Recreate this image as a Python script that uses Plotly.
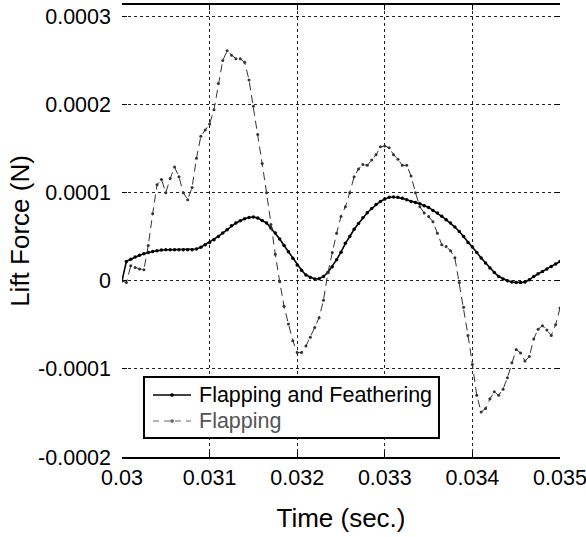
import plotly.graph_objects as go

# time (s)
time_s = [0.03, 0.03005, 0.0301, 0.03015, 0.0302, 0.03025, 0.0303, 0.03035, 0.0304, 0.03045,
          0.0305, 0.03055, 0.0306, 0.03065, 0.0307, 0.03075, 0.0308, 0.03085, 0.0309, 0.03095,
          0.031, 0.03105, 0.0311, 0.03115, 0.0312, 0.03125, 0.0313, 0.03135, 0.0314, 0.03145,
          0.0315, 0.03155, 0.0316, 0.03165, 0.0317, 0.03175, 0.0318, 0.03185, 0.0319, 0.03195,
          0.032, 0.03205, 0.0321, 0.03215, 0.0322, 0.03225, 0.0323, 0.03235, 0.0324, 0.03245,
          0.0325, 0.03255, 0.0326, 0.03265, 0.0327, 0.03275, 0.0328, 0.03285, 0.0329, 0.03295,
          0.033, 0.03305, 0.0331, 0.03315, 0.0332, 0.03325, 0.0333, 0.03335, 0.0334, 0.03345,
          0.0335, 0.03355, 0.0336, 0.03365, 0.0337, 0.03375, 0.0338, 0.03385, 0.0339, 0.03395,
          0.034, 0.03405, 0.0341, 0.03415, 0.0342, 0.03425, 0.0343, 0.03435, 0.0344, 0.03445,
          0.0345, 0.03455, 0.0346, 0.03465, 0.0347, 0.03475, 0.0348, 0.03485, 0.0349, 0.03495,
          0.035]

# Lift force (N), flapping and feathering
lift_flap_feather = [0, 2.2e-05, 2.45e-05, 2.7e-05, 2.9e-05, 3.07e-05, 3.22e-05, 3.33e-05, 3.41e-05, 3.48e-05,
                     3.52e-05, 3.53e-05, 3.53e-05, 3.53e-05, 3.53e-05, 3.53e-05, 3.53e-05, 3.6e-05, 3.8e-05, 4.1e-05,
                     4.35e-05, 4.66e-05, 5.03e-05, 5.42e-05, 5.8e-05, 6.25e-05, 6.56e-05, 6.82e-05, 7.05e-05, 7.18e-05,
                     7.24e-05, 7.12e-05, 6.85e-05, 6.56e-05, 5.99e-05, 5.42e-05, 4.74e-05, 4.0e-05, 3.3e-05, 2.55e-05,
                     1.8e-05, 1.2e-05, 6.5e-06, 3.8e-06, 2.0e-06, 2.3e-06, 5.0e-06, 9.4e-06, 1.6e-05, 2.4e-05,
                     3.25e-05, 4.25e-05, 5.03e-05, 5.85e-05, 6.5e-05, 7.15e-05, 7.72e-05, 8.2e-05, 8.65e-05, 9.0e-05,
                     9.28e-05, 9.47e-05, 9.51e-05, 9.47e-05, 9.36e-05, 9.2e-05, 9.0e-05, 8.88e-05, 8.75e-05, 8.52e-05,
                     8.33e-05, 7.99e-05, 7.69e-05, 7.31e-05, 6.93e-05, 6.56e-05, 6.1e-05, 5.6e-05, 5.03e-05, 4.35e-05,
                     3.83e-05, 3.22e-05, 2.58e-05, 2.01e-05, 1.44e-05, 9.4e-06, 4.9e-06, 2.0e-06, 0, -1.5e-06,
                     -2.0e-06, -2.0e-06, -1.5e-06, 1.1e-06, 4.9e-06, 8.0e-06, 1.06e-05, 1.33e-05, 1.63e-05, 1.9e-05,
                     2.19e-05]

# Lift force (N), flapping only
lift_flap = [0, -2.0e-06, 1.7e-05, 1.5e-05, 1.35e-05, 1.25e-05, 4.0e-05, 7.6e-05, 0.000109, 0.000115,
             0.0001, 0.000116, 0.000129, 0.000118, 0.0001, 9.2e-05, 0.000106, 0.000139, 0.000164, 0.000171,
             0.000178, 0.000194, 0.000224, 0.00025, 0.000261, 0.000256, 0.000252, 0.000252, 0.000248, 0.000228,
             0.000198, 0.000166, 0.000133, 0.0001, 6.4e-05, 3.0e-05, -1.0e-06, -2.9e-05, -4.9e-05, -6.8e-05,
             -8.15e-05, -8.15e-05, -7.4e-05, -6.4e-05, -5.3e-05, -4.2e-05, -2.2e-05, 9.0e-06, 3.2e-05, 5.4e-05,
             7.3e-05, 8.4e-05, 0.0001, 0.000118, 0.000127, 0.000132, 0.000131, 0.000137, 0.000143, 0.000152,
             0.000153, 0.000151, 0.000143, 0.000138, 0.000131, 0.000131, 0.000119, 0.0001, 8.4e-05, 7.7e-05,
             7.3e-05, 6.7e-05, 5.4e-05, 4.1e-05, 3.9e-05, 3.4e-05, 2.6e-05, -2.0e-06, -3.0e-05, -6.2e-05,
             -9.5e-05, -0.00013, -0.000149, -0.000145, -0.000134, -0.000126, -0.00013, -0.000123, -0.00011, -9.3e-05,
             -7.8e-05, -8.2e-05, -9.1e-05, -8.6e-05, -6.6e-05, -5.5e-05, -5.1e-05, -5.6e-05, -6.2e-05, -5.0e-05,
             -3.1e-05]

series_names = ["Flapping and Feathering", "Flapping"]
x_tickvals = [0.03, 0.031, 0.032, 0.033, 0.034, 0.035]
x_ticktext = ["0.03", "0.031", "0.032", "0.033", "0.034", "0.035"]
y_tickvals = [-0.0002, -0.0001, 0, 0.0001, 0.0002, 0.0003]
y_ticktext = ["-0.0002", "-0.0001", "0", "0.0001", "0.0002", "0.0003"]

FONT = "Liberation Sans, Arial, Helvetica, sans-serif"
TICK_SIZE = 21.5
TITLE_SIZE = 26

fig = go.Figure()
fig.add_trace(go.Scatter(
    x=time_s, y=lift_flap_feather, mode="lines+markers",
    name=series_names[0],
    line=dict(color="black", width=1.6),
    marker=dict(color="black", size=3.5),
))
fig.add_trace(go.Scatter(
    x=time_s, y=lift_flap, mode="lines+markers",
    name=series_names[1],
    line=dict(color="#333333", width=1, dash="8px,5px"),
    marker=dict(color="#333333", size=3),
))

# ---- hand-drawn legend box (paper coordinates) ----
box = dict(x0=0.0502, x1=0.7237, y0=0.042, y1=0.177)
rows_y = [0.1372, 0.0796]
samp_x0, samp_x1, samp_mid, text_x = 0.0708, 0.1575, 0.1142, 0.1712
shapes = [dict(type="rect", xref="paper", yref="paper", layer="above",
               x0=box["x0"], x1=box["x1"], y0=box["y0"], y1=box["y1"],
               line=dict(color="black", width=2), fillcolor="white")]
annos = []
legend_styles = [
    dict(color="black", width=1.4, dash="solid", text="black"),
    dict(color="#666666", width=1.2, dash="6px,5px", text="#555555"),
]
for name, yy, st in zip(series_names, rows_y, legend_styles):
    shapes.append(dict(type="line", xref="paper", yref="paper", layer="above",
                       x0=samp_x0, x1=samp_x1, y0=yy, y1=yy,
                       line=dict(color=st["color"], width=st["width"], dash=st["dash"])))
    rx, ry = 1.6 / 438, 1.6 / 452
    shapes.append(dict(type="circle", xref="paper", yref="paper", layer="above",
                       x0=samp_mid - rx, x1=samp_mid + rx, y0=yy - ry, y1=yy + ry,
                       line=dict(color=st["color"], width=0.5), fillcolor=st["color"]))
    annos.append(dict(xref="paper", yref="paper", x=text_x, y=yy, xanchor="left",
                      yanchor="middle", showarrow=False, text=name,
                      font=dict(family=FONT, size=TICK_SIZE, color=st["text"])))

fig.update_layout(
    width=586, height=537,
    margin=dict(l=122, r=26, t=5, b=80),
    paper_bgcolor="white", plot_bgcolor="white",
    font=dict(family=FONT, size=TICK_SIZE, color="black"),
    showlegend=False,
    shapes=shapes, annotations=annos,
)
fig.update_xaxes(
    range=[0.03, 0.035], tickvals=x_tickvals, ticktext=x_ticktext,
    showline=True, linecolor="black", linewidth=1.5, mirror="ticks",
    ticks="inside", ticklen=5, tickcolor="black",
    showgrid=True, gridcolor="#222222", griddash="dot", gridwidth=1,
    zeroline=False, automargin=False, ticklabeloverflow="allow",
    title=dict(text="Time (sec.)", standoff=20, font=dict(size=TITLE_SIZE)),
)
fig.update_yaxes(
    range=[-0.0002, 0.000313], tickvals=y_tickvals, ticktext=y_ticktext,
    showline=False, mirror="ticks",
    ticks="inside", ticklen=5, tickcolor="black",
    showgrid=True, gridcolor="#222222", griddash="dot", gridwidth=1,
    zeroline=False, ticklabelstandoff=10, automargin=False,
    title=dict(text="Lift Force (N)", standoff=0, font=dict(size=TITLE_SIZE)),
)

fig.write_html("out.html", config={"displayModeBar": False},
               post_script="document.body.style.margin='0';")
